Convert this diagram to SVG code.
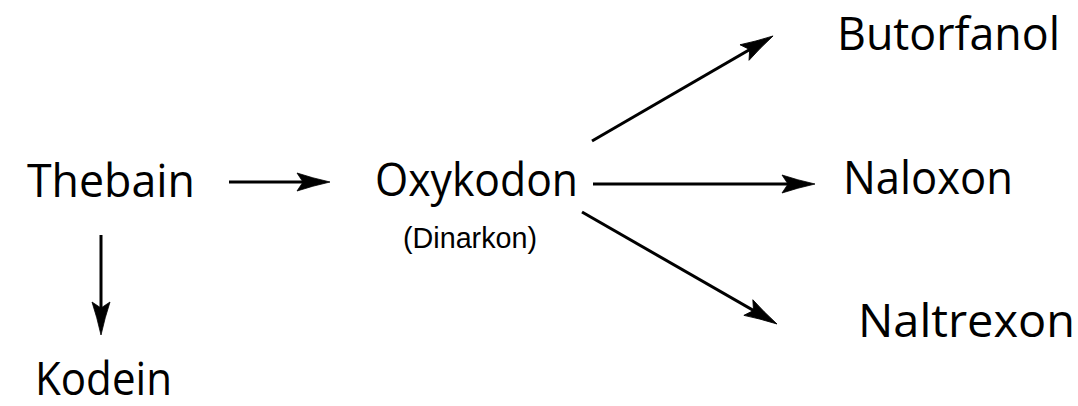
<svg xmlns="http://www.w3.org/2000/svg" width="1078" height="406" viewBox="0 0 1078 406">
  <style>
    .lbl { font-family: "Open Sans", "DejaVu Sans", sans-serif; font-size: 46px; fill: #000; }
    .sub { font-family: "Liberation Sans", Arial, sans-serif; font-size: 29px; fill: #000; }
    .arr { stroke: #000; stroke-width: 3; fill: none; marker-end: url(#head); }
  </style>
  <defs>
    <marker id="head" markerUnits="userSpaceOnUse" viewBox="-34 -10 36 20" refX="-10" refY="0" markerWidth="36" markerHeight="20" orient="auto">
      <path d="M0,0 Q-18,-4 -33,-9 L-27,0 L-33,9 Q-18,4 0,0 Z" fill="#000" stroke="#000" stroke-width="0.8" stroke-linejoin="round"/>
    </marker>
  </defs>

  <rect width="1078" height="406" fill="#fff"/>

  <g id="connectors">
    <line class="arr" x1="229" y1="182" x2="320" y2="182"/>
    <line class="arr" x1="101" y1="235" x2="101" y2="325"/>
    <line class="arr" x1="593" y1="184" x2="805" y2="184"/>
    <line class="arr" x1="592" y1="141" x2="764.4" y2="41"/>
    <line class="arr" x1="582" y1="212" x2="768.3" y2="319"/>
  </g>

  <g id="thebain"><text class="lbl" x="27" y="197" textLength="168" lengthAdjust="spacingAndGlyphs">Thebain</text></g>
  <g id="oxykodon">
    <text class="lbl" x="375" y="196" textLength="203" lengthAdjust="spacingAndGlyphs">Oxykodon</text>
    <text class="sub" x="403" y="248" textLength="134" lengthAdjust="spacingAndGlyphs">(Dinarkon)</text>
  </g>
  <g id="butorfanol"><text class="lbl" x="837" y="50" textLength="223" lengthAdjust="spacingAndGlyphs">Butorfanol</text></g>
  <g id="naloxon"><text class="lbl" x="843" y="194" textLength="170" lengthAdjust="spacingAndGlyphs">Naloxon</text></g>
  <g id="naltrexon"><text class="lbl" x="858" y="337" textLength="217" lengthAdjust="spacingAndGlyphs">Naltrexon</text></g>
  <g id="kodein"><text class="lbl" x="35" y="395" textLength="137" lengthAdjust="spacingAndGlyphs">Kodein</text></g>
</svg>
